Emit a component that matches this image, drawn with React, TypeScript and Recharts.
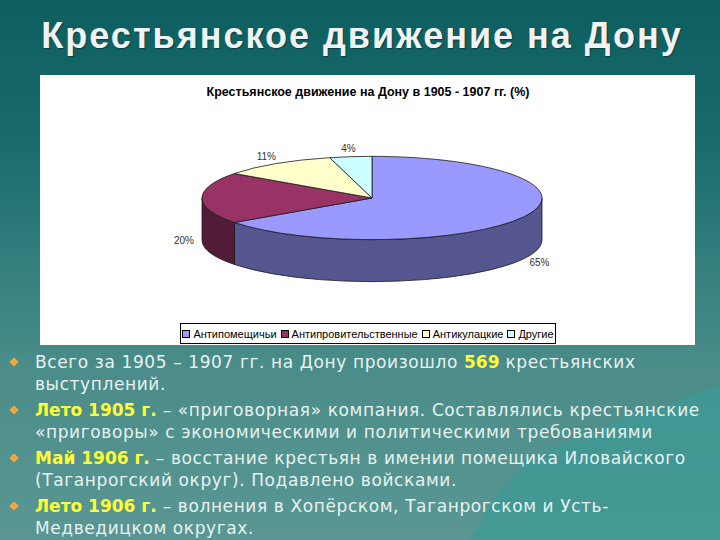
import { PieChart, Pie, Cell, Legend } from 'recharts';

/* ================= DATA ================= */
const categories = ['Антипомещичьи', 'Антипровительственные', 'Антикулацкие', 'Другие'];
const shares = [65, 20, 11, 4];

const COLORS = ['#9999ff', '#993366', '#ffffcc', '#ccffff'];
const SIDE_COLORS = ['#55558f', '#521b38', '#a8a888', '#88b0b0'];

const pieData = categories.map((name, i) => ({ name, value: shares[i] }));

/* ================= 3D HELPERS ================= */
const RAD = Math.PI / 180;
const SQUASH = 0.245;
const DEPTH = 42;

const pt = (cx: number, cy: number, rx: number, ry: number, deg: number) =>
  `${cx + rx * Math.cos(deg * RAD)},${cy - ry * Math.sin(deg * RAD)}`;

const TopShape = (props: any) => {
  const { cx, cy, outerRadius, startAngle, endAngle, fill } = props;
  const rx = outerRadius;
  const ry = rx * SQUASH;
  const lo = Math.min(startAngle, endAngle);
  const hi = Math.max(startAngle, endAngle);
  const large = hi - lo > 180 ? 1 : 0;
  const d = `M${cx},${cy} L${pt(cx, cy, rx, ry, hi)} A${rx},${ry} 0 ${large} 1 ${pt(cx, cy, rx, ry, lo)} Z`;
  return <path d={d} fill={fill} stroke="#1a1a1a" strokeWidth={0.8} />;
};

const SideShape = (props: any) => {
  const { cx, cy, outerRadius, startAngle, endAngle, fill } = props;
  const rx = outerRadius;
  const ry = rx * SQUASH;
  const lo = Math.min(startAngle, endAngle);
  const hi = Math.max(startAngle, endAngle);
  const side = SIDE_COLORS[COLORS.indexOf(fill)] || '#555';
  const paths: string[] = [];
  // front half of the ellipse: sin < 0, i.e. [-180, 0] + 360k
  for (let k = Math.floor(lo / 360) - 1; k <= Math.ceil(hi / 360) + 1; k++) {
    const u = Math.max(lo, -180 + 360 * k);
    const v = Math.min(hi, 360 * k);
    if (v > u) {
      paths.push(
        `M${pt(cx, cy, rx, ry, u)} A${rx},${ry} 0 0 0 ${pt(cx, cy, rx, ry, v)} ` +
          `L${pt(cx, cy + DEPTH, rx, ry, v)} A${rx},${ry} 0 0 1 ${pt(cx, cy + DEPTH, rx, ry, u)} Z`
      );
    }
  }
  return (
    <g>
      {paths.map((d, i) => (
        <path key={i} d={d} fill={side} stroke="#1a1a1a" strokeWidth={0.8} />
      ))}
    </g>
  );
};

const renderLabel = (props: any) => {
  const { cx, cy, midAngle, outerRadius, percent } = props;
  const rx = outerRadius + 18;
  const ry = outerRadius * SQUASH + 8;
  const s = Math.sin(midAngle * RAD);
  const x = cx + rx * Math.cos(midAngle * RAD);
  const y = cy - ry * s + (s < 0.1 ? DEPTH : 0);
  return (
    <text
      x={x}
      y={y}
      textAnchor="middle"
      dominantBaseline="central"
      fontSize={10}
      fontFamily="Liberation Sans, Arial, sans-serif"
      fill="#333"
    >
      {`${Math.round(percent * 100)}%`}
    </text>
  );
};

const LegendBox = (props: any) => {
  const seen = new Set<string>();
  const payload = (props.payload || [])
    .filter((p: any) => {
      if (!categories.includes(p.value) || seen.has(p.value)) return false;
      seen.add(p.value);
      return true;
    })
    .sort((a: any, b: any) => categories.indexOf(a.value) - categories.indexOf(b.value));
  return (
    <div
      style={{
        display: 'flex',
        justifyContent: 'center',
        alignItems: 'center',
        gap: 4,
        fontFamily: 'Liberation Sans, Arial, sans-serif',
        fontSize: 11,
        color: '#000',
        whiteSpace: 'nowrap',
      }}
    >
      {payload.map((entry: any, i: number) => (
        <span key={i} style={{ display: 'inline-flex', alignItems: 'center', gap: 3 }}>
          <span
            style={{
              width: 6,
              height: 6,
              border: '1px solid #000',
              background: COLORS[categories.indexOf(entry.value)],
              display: 'inline-block',
            }}
          />
          {entry.value}
        </span>
      ))}
    </div>
  );
};

/* ================= SLIDE TEXT ================= */
const Y = ({ children }: { children: any }) => (
  <b style={{ color: '#ffff33', letterSpacing: 0 }}>{children}</b>
);

const bullets = [
  <>Всего за 1905 – 1907 гг. на Дону произошло <Y>569</Y> крестьянских выступлений.</>,
  <><Y>Лето 1905 г.</Y> – «приговорная» компания. Составлялись крестьянские «приговоры» с экономическими и политическими требованиями</>,
  <><Y>Май 1906 г.</Y> – восстание крестьян в имении помещика Иловайского (Таганрогский округ). Подавлено войсками.</>,
  <><Y>Лето 1906 г.</Y> – волнения в Хопёрском, Таганрогском и Усть-Медведицком округах.</>,
];

export default function App() {
  return (
    <div
      style={{
        position: 'absolute',
        left: 0,
        top: 0,
        width: 720,
        height: 540,
        overflow: 'hidden',
        background:
          'linear-gradient(180deg, #0c5e5f 0%, #186a6b 25%, #34807f 50%, #4a8c89 68%, #5a9794 100%)',
      }}
    >
      <svg width={720} height={540} style={{ position: 'absolute', left: 0, top: 0 }}>
        <path
          d="M470,540 L500,490 L530,460 L560,445 L600,430 L630,415 L660,410 L690,395 L720,385 L720,540 Z"
          fill="#3c9a95"
          opacity={0.7}
        />
      </svg>

      <div
        style={{
          position: 'absolute',
          left: 0,
          width: 724,
          top: 15,
          textAlign: 'center',
          fontFamily: '"Liberation Sans", Arial, sans-serif',
          fontWeight: 'bold',
          fontSize: 36,
          letterSpacing: 2,
          lineHeight: '42px',
          color: '#f2f2f2',
          textShadow: '1px 1px 1px rgba(0,0,0,0.35)',
        }}
      >
        Крестьянское движение на Дону
      </div>

      <div
        style={{
          position: 'absolute',
          left: 40,
          top: 75,
          width: 655,
          height: 270,
          background: '#fff',
        }}
      >
        <PieChart width={655} height={270}>
          <Pie
            data={pieData}
            dataKey="value"
            nameKey="name"
            cx={327}
            cy={118}
            outerRadius={170}
            startAngle={90}
            endAngle={-270}
            legendType="none"
            shape={SideShape}
            activeShape={SideShape}
            inactiveShape={SideShape}
            isAnimationActive={false}
          >
            {pieData.map((d, i) => (
              <Cell key={d.name} fill={COLORS[i]} />
            ))}
          </Pie>
          <Pie
            data={pieData}
            dataKey="value"
            nameKey="name"
            cx={327}
            cy={118}
            outerRadius={170}
            startAngle={90}
            endAngle={-270}
            shape={TopShape}
            activeShape={TopShape}
            inactiveShape={TopShape}
            label={renderLabel}
            labelLine={false}
            isAnimationActive={false}
          >
            {pieData.map((d, i) => (
              <Cell key={d.name} fill={COLORS[i]} />
            ))}
          </Pie>
          <Legend
            content={LegendBox}
            itemSorter={() => 0}
            wrapperStyle={{
              position: 'absolute',
              left: 140,
              top: 248,
              width: 374,
              height: 19,
              border: '1px solid #000',
              background: '#fff',
              display: 'flex',
              alignItems: 'center',
              justifyContent: 'center',
            }}
          />
        </PieChart>
        <div
          style={{
            position: 'absolute',
            left: 0,
            top: 10,
            width: 656,
            textAlign: 'center',
            fontFamily: 'Liberation Sans, Arial, sans-serif',
            fontWeight: 'bold',
            fontSize: 12.5,
            color: '#000',
          }}
        >
          Крестьянское движение на Дону в 1905 - 1907 гг. (%)
        </div>
      </div>

      <div
        style={{
          position: 'absolute',
          left: 35,
          top: 351,
          width: 682,
          fontFamily: '"DejaVu Sans", Verdana, sans-serif',
          fontSize: 17,
          letterSpacing: 0.6,
          lineHeight: '22px',
          color: '#e6f2f0',
        }}
      >
        {bullets.map((b, i) => (
          <div key={i} style={{ position: 'relative', marginBottom: 4 }}>
            <span
              style={{
                position: 'absolute',
                left: -24,
                top: 8,
                width: 6,
                height: 6,
                background: '#f2a63a',
                transform: 'rotate(45deg)',
                boxShadow: '0 0 1px #ffd070',
              }}
            />
            {b}
          </div>
        ))}
      </div>
    </div>
  );
}
